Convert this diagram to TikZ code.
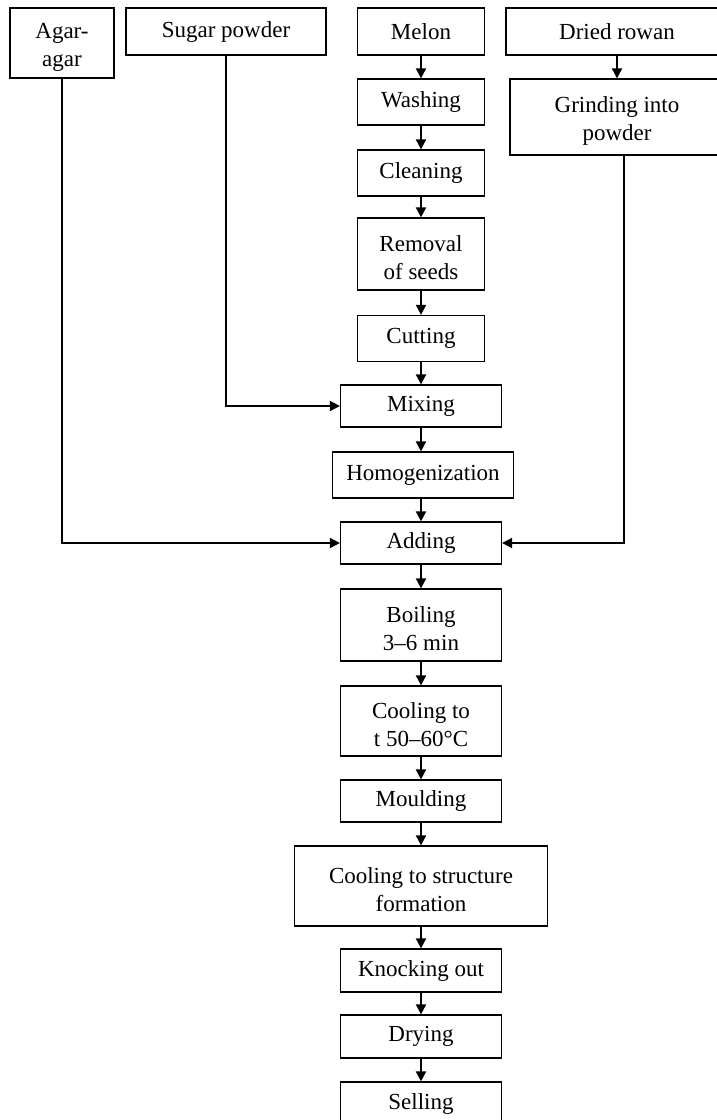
\documentclass[tikz,border=0pt]{standalone}
\usepackage{fontspec}
\setmainfont{Liberation Serif}
\usetikzlibrary{arrows.meta}

\begin{document}
\begin{tikzpicture}[x=0.5pt,y=-0.5pt,>={Triangle[length=5pt,width=5pt]},
 font=\fontsize{11.5}{14}\selectfont,
 box/.style={draw,line width=0.6pt,align=center,inner sep=0pt,minimum width=63.5pt,minimum height=23pt},
 wide/.style={box,minimum width=80.5pt,minimum height=21pt},
 two/.style={text height=25.5pt},
 link/.style={->,line width=0.9pt}]
\useasboundingbox (0,0) rectangle (717,1120);
% inputs
\node[box,two,minimum width=52pt,minimum height=35pt] (agar) at (62,43) {Agar-\\agar};
\node[box,minimum width=100pt,minimum height=23.5pt] (sugar) at (226,31.5) {Sugar powder};
\node[box,minimum height=23.5pt] (melon) at (421,31.5) {Melon};
\node[box,minimum width=111pt,minimum height=23.5pt] (rowan) at (617,31.5) {Dried rowan};
\node[box,two,minimum width=107pt,minimum height=38pt] (grind) at (617,117) {Grinding into\\powder};
% melon line
\node[box] (wash) at (421,102) {Washing};
\node[box] (clean) at (421,173) {Cleaning};
\node[box,two,minimum height=36pt] (seeds) at (421,254) {Removal\\of seeds};
\node[box] (cut) at (421,338.5) {Cutting};
\node[wide] (mix) at (421,406) {Mixing};
\node[wide,minimum width=90.5pt,minimum height=23pt] (homog) at (423,475) {Homogenization};
\node[wide] (add) at (421,543) {Adding};
\node[wide,two,minimum height=36pt] (boil) at (421,625) {Boiling\\3--6 min};
\node[wide,two,minimum height=35pt] (cool) at (421,721) {Cooling to\\t 50--60\textdegree C};
\node[wide] (mould) at (421,801) {Moulding};
\node[box,two,minimum width=126.5pt,minimum height=40pt] (struct) at (421,886) {Cooling to structure\\formation};
\node[wide,minimum height=21.5pt] (knock) at (421,970.5) {Knocking out};
\node[wide,minimum height=21.5pt] (dry) at (421,1036.5) {Drying};
\node[wide,minimum height=21.5pt] (sell) at (421,1103.5) {Selling};
% arrows
\draw[link] (melon) -- (wash);
\draw[link] (wash) -- (clean);
\draw[link] (clean) -- (seeds);
\draw[link] (seeds) -- (cut);
\draw[link] (cut) -- (mix);
\draw[link] (mix.south) -- (mix.south |- homog.north);
\draw[link] (homog.south -| add.north) -- (add.north);
\draw[link] (add) -- (boil);
\draw[link] (boil) -- (cool);
\draw[link] (cool) -- (mould);
\draw[link] (mould) -- (struct);
\draw[link] (struct) -- (knock);
\draw[link] (knock) -- (dry);
\draw[link] (dry) -- (sell);
\draw[link] (rowan) -- (grind);
\draw[link] (sugar.south) |- (mix.west);
\draw[link] (agar.south) |- (add.west);
\draw[link] ([xshift=3.5pt]grind.south) |- (add.east);
\end{tikzpicture}
\end{document}
